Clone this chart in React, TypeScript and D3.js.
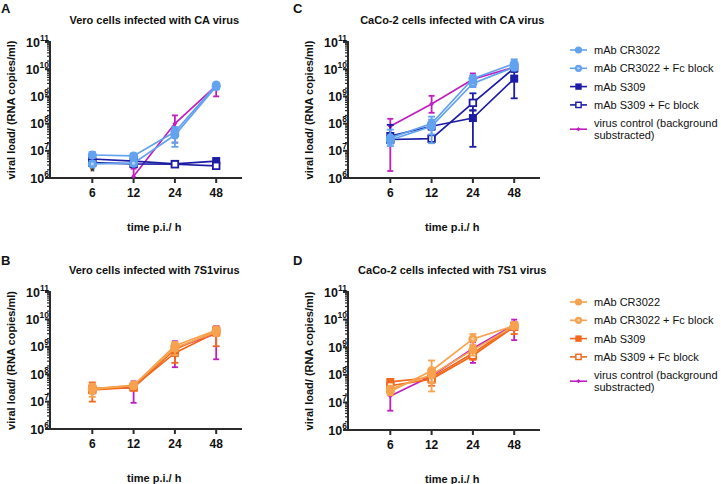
import React from "react";
import * as d3 from "d3";

// ---------- data ----------
const timeLabels = ["6", "12", "24", "48"];
const yExponents = [6, 7, 8, 9, 10, 11];

type Pt = [number, number, number] | null; // mean, low, high

// A: Vero cells infected with CA virus
const aCR3022: Pt[] = [[7e6, 5.5e6, 9e6], [6.5e6, 5e6, 8e6], [5e7, 2e7, 7.5e7], [2.6e9, 2e9, 3.2e9]];
const aCR3022Fc: Pt[] = [[3.3e6, 2.6e6, 4.2e6], [3.5e6, 2.8e6, 4.5e6], [3.8e7, 1.4e7, 6e7], [2.3e9, 1.8e9, 2.9e9]];
const aS309: Pt[] = [[5e6, 4.2e6, 5.8e6], [4.2e6, 3.6e6, 4.8e6], [3.3e6, 3e6, 3.7e6], [4.2e6, 3.6e6, 4.8e6]];
const aS309Fc: Pt[] = [[3.7e6, 3.2e6, 4.2e6], [3.3e6, 2.9e6, 3.8e6], [3.2e6, 2.9e6, 3.5e6], [2.8e6, 2.5e6, 3.1e6]];
const aVirus: Pt[] = [null, [1.15e6, 1e6, 2.2e6], [1e8, 2e7, 2e8], [2.5e9, 1e9, 3e9]];

// B: Vero cells infected with 7S1 virus
const bCR3022: Pt[] = [[3e7, 2e7, 4.5e7], [3.8e7, 3e7, 4.8e7], [1.1e9, 7e8, 1.5e9], [4e9, 3e9, 5.2e9]];
const bCR3022Fc: Pt[] = [[2.8e7, 1.5e7, 4e7], [4e7, 3.2e7, 4.8e7], [9e8, 5e8, 1.3e9], [3.5e9, 2.5e9, 4.5e9]];
const bS309: Pt[] = [[3e7, 1e7, 5e7], [3.5e7, 2.5e7, 4.5e7], [6e8, 2.6e8, 9.5e8], [3.3e9, 1.05e9, 5.5e9]];
const bS309Fc: Pt[] = [[2.7e7, 2e7, 3.5e7], [3.3e7, 2.7e7, 4e7], [8e8, 5e8, 1.1e9], [3.8e9, 3e9, 4.6e9]];
const bVirus: Pt[] = [[3e7, 2e7, 4e7], [3.2e7, 9e6, 5.5e7], [9e8, 1.8e8, 1.6e9], [3e9, 3.5e8, 5.6e9]];

// C: CaCo-2 cells infected with CA virus
const cCR3022: Pt[] = [[3e7, 1.5e7, 6e7], [1e8, 4e7, 1.8e8], [4.5e9, 3e9, 6e9], [1.6e10, 1.1e10, 2.3e10]];
const cCR3022Fc: Pt[] = [[2.5e7, 1.8e7, 3.2e7], [8e7, 1.9e7, 1.4e8], [3e9, 2.2e9, 3.8e9], [1.2e10, 9e9, 1.5e10]];
const cS309: Pt[] = [[3.5e7, 2.5e7, 9e7], [8e7, 6e7, 1e8], [1.6e8, 1.4e7, 3.1e8], [4.5e9, 8.5e8, 8.2e9]];
const cS309Fc: Pt[] = [[2.6e7, 2e7, 3.2e7], [2.8e7, 2.2e7, 3.4e7], [5.8e8, 3e8, 1.3e9], [1.1e10, 8e9, 1.4e10]];
const cVirus: Pt[] = [[8e7, 1.8e6, 1.5e8], [5.3e8, 2.5e8, 1.05e9], [4.3e9, 3e9, 7e9], [1.2e10, 9e9, 1.5e10]];

// D: CaCo-2 cells infected with 7S1 virus
const dCR3022: Pt[] = [[3e7, 2.2e7, 4e7], [1e8, 5e7, 1.5e8], [8e8, 5e8, 1.1e9], [6e9, 4.5e9, 7.5e9]];
const dCR3022Fc: Pt[] = [[2.5e7, 1.8e7, 3.2e7], [1.4e8, 2.5e7, 3.3e8], [2e9, 1.2e9, 3e9], [6e9, 4.5e9, 7.5e9]];
const dS309: Pt[] = [[5.5e7, 4.5e7, 6.5e7], [8e7, 5e7, 1.1e8], [6e8, 4e8, 8e8], [6e9, 4.5e9, 7.5e9]];
const dS309Fc: Pt[] = [[4e7, 3.2e7, 4.8e7], [7e7, 4e7, 1e8], [5e8, 3.5e8, 6.5e8], [5.5e9, 3e9, 8e9]];
const dVirus: Pt[] = [[1.7e7, 5e6, 3e7], [9e7, 6e7, 1.2e8], [9e8, 2.7e8, 1.5e9], [6.5e9, 1.8e9, 1e10]];

const legendLabels = ["mAb CR3022", "mAb CR3022 + Fc block", "mAb S309", "mAb S309 + Fc block"];
const virusLabel = ["virus control (background", "substracted)"];

const titles = [
  "Vero cells infected with CA virus",
  "Vero cells infected with 7S1virus",
  "CaCo-2 cells infected with CA virus",
  "CaCo-2 cells infected with 7S1 virus",
];
const letters = ["A", "B", "C", "D"];

// ---------- style ----------
const FONT = "'Liberation Sans', Arial, Helvetica, sans-serif";
const AXIS = "#2b2b2b";
const MAGENTA = "#C01FC0";
const blueSet = { light: "#62A2EE", lighter: "#B5D3F8", dark: "#1C1CA6" };
const orangeSet = { light: "#F6A24E", lighter: "#FAD0A2", dark: "#F2681C" };

type Marker = "circle" | "circleDot" | "square" | "squareOpen" | "diamond";
interface Series { data: Pt[]; color: string; inner: string; marker: Marker; }

function makeSeries(set: typeof blueSet, cr: Pt[], crFc: Pt[], s: Pt[], sFc: Pt[], v: Pt[]): Series[] {
  return [
    { data: v, color: MAGENTA, inner: MAGENTA, marker: "diamond" },
    { data: s, color: set.dark, inner: set.dark, marker: "square" },
    { data: sFc, color: set.dark, inner: "#ffffff", marker: "squareOpen" },
    { data: crFc, color: set.light, inner: set.lighter, marker: "circleDot" },
    { data: cr, color: set.light, inner: set.light, marker: "circle" },
  ];
}

function MarkerShape({ m, x, y, color, inner, s = 1 }: { m: Marker; x: number; y: number; color: string; inner: string; s?: number }) {
  if (m === "circle") return <circle cx={x} cy={y} r={4.5 * s} fill={color} />;
  if (m === "circleDot")
    return (
      <g>
        <circle cx={x} cy={y} r={4.5 * s} fill={color} />
        <circle cx={x} cy={y} r={1.6 * s} fill={inner} />
      </g>
    );
  if (m === "square") return <rect x={x - 4 * s} y={y - 4 * s} width={8 * s} height={8 * s} fill={color} />;
  if (m === "squareOpen")
    return <rect x={x - 3.3 * s} y={y - 3.3 * s} width={6.6 * s} height={6.6 * s} fill="#ffffff" stroke={color} strokeWidth={1.8 * s} />;
  const r = 2.4 * s;
  return <path d={`M${x},${y - r}L${x + r},${y}L${x},${y + r}L${x - r},${y}Z`} fill={color} />;
}

interface PanelProps { x0: number; yTop: number; yBot: number; title: string; letter: string; letterX: number; letterY: number; series: Series[]; star?: boolean; }

function Panel({ x0, yTop, yBot, title, letter, letterX, letterY, series, star }: PanelProps) {
  const y = d3.scaleLog().domain([1e6, 1e11]).range([yBot, yTop]);
  const x = d3.scalePoint<string>().domain(timeLabels).range([x0 + 42.3, x0 + 42.3 + 3 * 41.3]);
  const axisEnd = x0 + 192;
  const xc = (x(timeLabels[0])! + x(timeLabels[3])!) / 2;
  const minor: number[] = [];
  for (let e = 6; e < 11; e++) for (let k = 2; k <= 9; k++) minor.push(k * Math.pow(10, e));
  const line = d3.line<[number, number]>().x((d) => d[0]).y((d) => d[1]);

  return (
    <g fontFamily={FONT}>
      <text x={letterX} y={letterY} fontSize={13} fontWeight="bold" fill="#111">{letter}</text>
      <text x={xc} y={yTop - 18} fontSize={11} fontWeight="bold" textAnchor="middle" fill="#111">{title}</text>
      {/* y axis */}
      <line x1={x0} x2={x0} y1={yTop - 1} y2={yBot + 1} stroke={AXIS} strokeWidth={2} />
      {minor.map((v, i) => (
        <line key={"m" + i} x1={x0 - 3} x2={x0} y1={y(v)} y2={y(v)} stroke={AXIS} strokeWidth={1.2} />
      ))}
      {yExponents.map((e) => (
        <g key={e}>
          <line x1={x0 - 5} x2={x0} y1={y(Math.pow(10, e))} y2={y(Math.pow(10, e))} stroke={AXIS} strokeWidth={2} />
          <text x={x0 - 1} y={y(Math.pow(10, e)) + 4.5} textAnchor="end" fontWeight="bold" fontSize={12.5} fill="#111">
            10<tspan dy={-6} fontSize={8.5}>{e}</tspan>
          </text>
        </g>
      ))}
      <text transform={`translate(${x0 - 35},${(yTop + yBot) / 2}) rotate(-90)`} textAnchor="middle" fontSize={11} fontWeight="bold" fill="#111">
        viral load/ (RNA copies/ml)
      </text>
      {/* x axis */}
      <line x1={x0 - 1} x2={axisEnd} y1={yBot} y2={yBot} stroke={AXIS} strokeWidth={2} />
      {timeLabels.map((t) => (
        <g key={t}>
          <line x1={x(t)!} x2={x(t)!} y1={yBot} y2={yBot + 5} stroke={AXIS} strokeWidth={2} />
          <text x={x(t)!} y={yBot + 19} textAnchor="middle" fontSize={12} fontWeight="bold" fill="#111">{t}</text>
        </g>
      ))}
      <text x={xc} y={yBot + 53} textAnchor="middle" fontSize={11} fontWeight="bold" fill="#111">time p.i./ h</text>
      {star && (
        <text x={x(timeLabels[0])!} y={yBot - 2} textAnchor="middle" fontSize={12} fontWeight="bold" fill="#222">*</text>
      )}
      {/* series */}
      {series.map((s, si) => {
        const pts: [number, number][] = [];
        s.data.forEach((d, i) => { if (d) pts.push([x(timeLabels[i])!, y(d[0])]); });
        return (
          <g key={si}>
            <path d={line(pts) || ""} fill="none" stroke={s.color} strokeWidth={1.7} />
            {s.data.map((d, i) => {
              if (!d) return null;
              const cx = x(timeLabels[i])!;
              const lo = y(Math.max(d[1], 1e6));
              const hi = y(d[2]);
              const cw = s.marker === "diamond" ? 3 : 3.5;
              return (
                <g key={i}>
                  <line x1={cx} x2={cx} y1={lo} y2={hi} stroke={s.color} strokeWidth={1.8} />
                  <line x1={cx - cw} x2={cx + cw} y1={hi} y2={hi} stroke={s.color} strokeWidth={1.8} />
                  {d[1] > 1e6 && <line x1={cx - cw} x2={cx + cw} y1={lo} y2={lo} stroke={s.color} strokeWidth={1.8} />}
                </g>
              );
            })}
            {s.data.map((d, i) =>
              d ? <MarkerShape key={"k" + i} m={s.marker} x={x(timeLabels[i])!} y={y(d[0])} color={s.color} inner={s.inner} /> : null
            )}
          </g>
        );
      })}
    </g>
  );
}

function Legend({ x, y0, set }: { x: number; y0: number; set: typeof blueSet }) {
  const items: { color: string; inner: string; m: Marker }[] = [
    { color: set.light, inner: set.light, m: "circle" },
    { color: set.light, inner: set.lighter, m: "circleDot" },
    { color: set.dark, inner: set.dark, m: "square" },
    { color: set.dark, inner: "#fff", m: "squareOpen" },
  ];
  const step = 18.3;
  const vy = y0 + 4 * step;
  return (
    <g fontFamily={FONT} fontSize={11} fill="#111">
      {items.map((it, i) => {
        const yy = y0 + i * step;
        return (
          <g key={i}>
            <line x1={x} x2={x + 17} y1={yy} y2={yy} stroke={it.color} strokeWidth={1.6} />
            <MarkerShape m={it.m} x={x + 8.5} y={yy} color={it.color} inner={it.inner} s={0.8} />
            <text x={x + 24} y={yy + 4}>{legendLabels[i]}</text>
          </g>
        );
      })}
      <line x1={x} x2={x + 17} y1={vy + 6} y2={vy + 6} stroke={MAGENTA} strokeWidth={1.6} />
      <MarkerShape m="diamond" x={x + 8.5} y={vy + 6} color={MAGENTA} inner={MAGENTA} s={0.9} />
      <text x={x + 24} y={vy + 4}>{virusLabel[0]}</text>
      <text x={x + 24} y={vy + 16}>{virusLabel[1]}</text>
    </g>
  );
}

export default function App() {
  const sA = makeSeries(blueSet, aCR3022, aCR3022Fc, aS309, aS309Fc, aVirus);
  const sB = makeSeries(orangeSet, bCR3022, bCR3022Fc, bS309, bS309Fc, bVirus);
  const sC = makeSeries(blueSet, cCR3022, cCR3022Fc, cS309, cS309Fc, cVirus);
  const sD = makeSeries(orangeSet, dCR3022, dCR3022Fc, dS309, dS309Fc, dVirus);
  return (
    <svg width={721} height={484} style={{ position: "absolute", left: 0, top: 0, background: "#fff" }}>
      <rect width={721} height={484} fill="#fff" />
      <Panel x0={50} yTop={42} yBot={178} title={titles[0]} letter={letters[0]} letterX={1} letterY={13} series={sA} star />
      <Panel x0={50} yTop={292} yBot={429} title={titles[1]} letter={letters[1]} letterX={1} letterY={265} series={sB} />
      <Panel x0={348} yTop={42} yBot={178} title={titles[2]} letter={letters[2]} letterX={293} letterY={13} series={sC} />
      <Panel x0={348} yTop={292} yBot={430} title={titles[3]} letter={letters[3]} letterX={293} letterY={265} series={sD} />
      <Legend x={570} y0={50} set={blueSet} />
      <Legend x={570} y0={302} set={orangeSet} />
    </svg>
  );
}
